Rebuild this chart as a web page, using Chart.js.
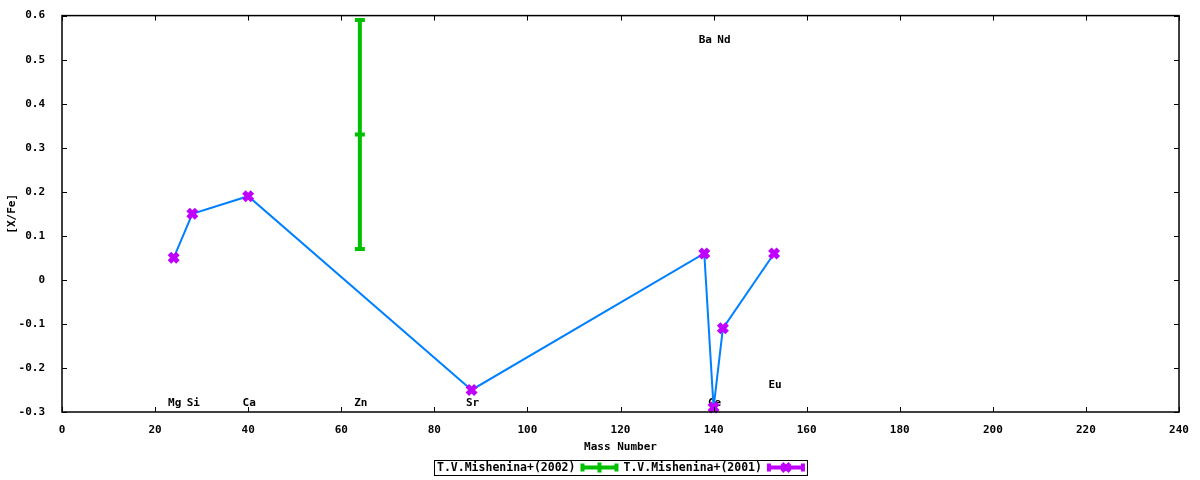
<!DOCTYPE html>
<html>
<head>
<meta charset="utf-8">
<script src="https://cdn.jsdelivr.net/npm/chart.js@4.4.0/dist/chart.umd.min.js"></script>
<style>
  html, body { margin: 0; padding: 0; background: #fff; }
  #wrap { width: 1200px; height: 480px; }
</style>
</head>
<body>
<div id="wrap"><canvas id="chart" width="1200" height="480"></canvas></div>
<script>
// ===== данные =====
const massNumbers = [24, 28, 40, 88, 138, 140, 142, 153];
const xFe2001 = [0.05, 0.15, 0.19, -0.25, 0.06, -0.29, -0.11, 0.06];

// Zn, T.V.Mishenina+(2002): среднее и погрешность
const znMass = [64];
const znMean = [0.33];
const znLow = [0.07];
const znHigh = [0.59];

// подписи элементов
const elemNames = ["Mg", "Si", "Ca", "Zn", "Sr", "Ba", "Ce", "Nd", "Eu"];
const elemX = [24, 28, 40, 64, 88, 138, 140, 142, 153];
const elemY = [-0.28, -0.28, -0.28, -0.28, -0.28, 0.545, -0.28, 0.545, -0.24];

const xTicks = [0, 20, 40, 60, 80, 100, 120, 140, 160, 180, 200, 220, 240];
const yTicks = [-0.3, -0.2, -0.1, 0, 0.1, 0.2, 0.3, 0.4, 0.5, 0.6];

const legendNames = ["T.V.Mishenina+(2002)", "T.V.Mishenina+(2001)"];

const GREEN = "rgb(0,192,0)";
const PURPLE = "rgb(192,0,255)";
const BLUE = "rgb(0,128,255)";
const FAMILY = "'DejaVu Sans Mono', monospace";
const FONT = "bold 11px " + FAMILY;
const tickFont = { family: FAMILY, size: 11, weight: "bold" };

// подписи элементов — под линиями
const labelsPlugin = {
  id: "elemLabels",
  beforeDatasetsDraw(chart) {
    const ctx = chart.ctx;
    const xs = chart.scales.x, ys = chart.scales.y;
    ctx.save();
    ctx.font = FONT;
    ctx.fillStyle = "#000";
    ctx.textAlign = "center";
    ctx.textBaseline = "middle";
    elemNames.forEach((n, i) => {
      ctx.fillText(n, xs.getPixelForValue(elemX[i]) + 1, ys.getPixelForValue(elemY[i]));
    });
    ctx.restore();
  }
};

// рамка, внутренние засечки и легенда
const framePlugin = {
  id: "frame",
  afterDraw(chart) {
    const ctx = chart.ctx;
    const a = chart.chartArea;
    const xs = chart.scales.x, ys = chart.scales.y;
    ctx.save();
    ctx.strokeStyle = "#000";
    ctx.lineWidth = 1;
    ctx.beginPath();
    xTicks.forEach((t) => {
      const px = Math.round(xs.getPixelForValue(t)) + 0.5;
      ctx.moveTo(px, a.bottom); ctx.lineTo(px, a.bottom - 5);
      ctx.moveTo(px, a.top); ctx.lineTo(px, a.top + 5);
    });
    yTicks.forEach((t) => {
      const py = Math.round(ys.getPixelForValue(t)) + 0.5;
      ctx.moveTo(a.left, py); ctx.lineTo(a.left + 5, py);
      ctx.moveTo(a.right, py); ctx.lineTo(a.right - 5, py);
    });
    ctx.stroke();
    ctx.lineWidth = 1.5;
    ctx.strokeRect(a.left, a.top, a.right - a.left, a.bottom - a.top);

    // легенда
    ctx.font = "bold 11.5px " + FAMILY;
    ctx.textBaseline = "middle";
    ctx.textAlign = "left";
    const sample = 36, gap = 6;
    const w0 = ctx.measureText(legendNames[0]).width;
    const w1 = ctx.measureText(legendNames[1]).width;
    const total = 2 + w0 + gap + sample + gap + w1 + gap + sample + 4;
    const bx = Math.round((a.left + a.right) / 2 - total / 2);
    const by = 460, bh = 15, cy = by + bh / 2;
    ctx.lineWidth = 1;
    ctx.strokeRect(bx + 0.5, by + 0.5, total, bh);
    let x = bx + 3;
    ctx.fillStyle = "#000";
    ctx.fillText(legendNames[0], x, cy + 1);
    x += w0 + gap;
    drawSample(ctx, x, cy, sample, GREEN, false);
    x += sample + gap;
    ctx.fillStyle = "#000";
    ctx.fillText(legendNames[1], x, cy + 1);
    x += w1 + gap;
    drawSample(ctx, x, cy, sample, PURPLE, true);
    ctx.restore();
  }
};

function drawSample(ctx, x, cy, len, color, cross) {
  ctx.strokeStyle = color;
  ctx.lineWidth = 4;
  ctx.beginPath();
  ctx.moveTo(x, cy); ctx.lineTo(x + len, cy);
  ctx.moveTo(x + 1, cy - 4); ctx.lineTo(x + 1, cy + 4);
  ctx.moveTo(x + len - 1, cy - 4); ctx.lineTo(x + len - 1, cy + 4);
  if (!cross) {
    ctx.moveTo(x + len / 2, cy - 5); ctx.lineTo(x + len / 2, cy + 5);
  } else {
    const m = x + len / 2;
    ctx.moveTo(m - 4, cy - 4); ctx.lineTo(m + 4, cy + 4);
    ctx.moveTo(m - 4, cy + 4); ctx.lineTo(m + 4, cy - 4);
  }
  ctx.stroke();
}

const purpleData = massNumbers.map((m, i) => ({ x: m, y: xFe2001[i] }));
const znBar = [];
znMass.forEach((m, i) => {
  znBar.push({ x: m, y: znLow[i] });
  znBar.push({ x: m, y: znHigh[i] });
});
const znMid = znMass.map((m, i) => ({ x: m, y: znMean[i] }));

new Chart(document.getElementById("chart"), {
  type: "scatter",
  data: {
    datasets: [
      {
        label: legendNames[0] + " err",
        data: znBar,
        showLine: true,
        borderColor: GREEN,
        borderWidth: 4,
        pointStyle: "line",
        pointRadius: 5,
        pointBorderWidth: 4,
        pointBorderColor: GREEN,
        clip: false,
      },
      {
        label: legendNames[0],
        data: znMid,
        pointStyle: "line",
        pointRadius: 5,
        pointBorderWidth: 4,
        pointBorderColor: GREEN,
        clip: false,
      },
      {
        label: legendNames[1],
        data: purpleData,
        showLine: true,
        borderColor: BLUE,
        borderWidth: 2,
        pointStyle: "crossRot",
        pointRadius: 6,
        pointBorderWidth: 5,
        pointBorderColor: PURPLE,
        pointBackgroundColor: PURPLE,
        clip: false,
      },
    ],
  },
  options: {
    responsive: false,
    animation: false,
    events: [],
    layout: { padding: { left: 0, top: 13, right: 21, bottom: 20 } },
    plugins: { legend: { display: false }, tooltip: { enabled: false } },
    scales: {
      x: {
        type: "linear",
        min: 0,
        max: 240,
        afterBuildTicks: (s) => { s.ticks = xTicks.map((v) => ({ value: v })); },
        afterFit: (s) => { s.height = 48; },
        grid: { display: false },
        border: { display: false },
        ticks: { color: "#000", font: tickFont, padding: 4, maxRotation: 0 },
        title: { display: true, text: "Mass Number", color: "#000", font: tickFont, padding: { top: 0, bottom: 6 } },
      },
      y: {
        type: "linear",
        min: -0.3,
        max: 0.6,
        afterBuildTicks: (s) => { s.ticks = yTicks.map((v) => ({ value: v })); },
        afterFit: (s) => { s.width = 62; },
        grid: { display: false },
        border: { display: false },
        ticks: {
          color: "#000",
          font: tickFont,
          padding: 9,
          callback: (v) => (Math.abs(v) < 1e-9 ? "0" : v.toFixed(1)),
        },
        title: { display: true, text: "[X/Fe]", color: "#000", font: tickFont, padding: { top: 6, bottom: 0 } },
      },
    },
  },
  plugins: [labelsPlugin, framePlugin],
});
</script>
</body>
</html>
